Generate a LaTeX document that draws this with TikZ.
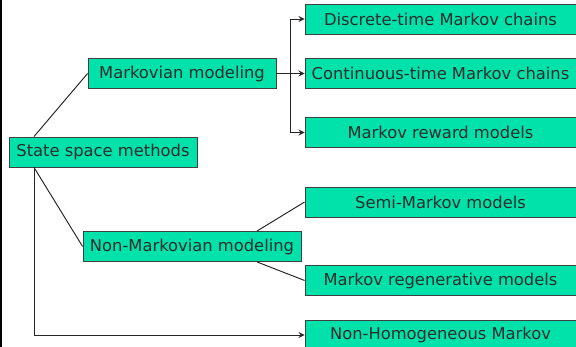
\documentclass[tikz,border=0pt]{standalone}
\usepackage{fontspec}
\setmainfont{DejaVu Sans}
\definecolor{mint}{RGB}{0,226,170}
\definecolor{inkgray}{RGB}{35,45,45}
\begin{document}
\begin{tikzpicture}[x=0.02cm, y=-0.02cm, every node/.style={font=\fontsize{9.3}{11}\selectfont, text=inkgray}]
  \tikzstyle{methbox}=[draw=black!75,fill=mint,minimum height=0.6cm,inner sep=0pt,line width=0.5pt]
  \tikzstyle{link}=[draw=black!85,line width=0.55pt]
  \useasboundingbox (0,0) rectangle (576,347);
  \fill[black] (0,0) rectangle (2,347);
  % left side
  \node[methbox,minimum width=3.76cm] (ssm) at (103,152) {State space methods};
  \node[methbox,minimum width=3.76cm] (mm) at (182,73.5) {Markovian modeling};
  \node[methbox,minimum width=4.36cm] (nmm) at (192,246.5) {Non-Markovian modeling};
  % right column
  \node[methbox,minimum width=5.42cm] (dtmc) at (440.5,19) {Discrete-time Markov chains};
  \node[methbox,minimum width=5.42cm] (ctmc) at (440.5,73.5) {Continuous-time Markov chains};
  \node[methbox,minimum width=5.42cm] (mrm) at (440.5,132.5) {Markov reward models};
  \node[methbox,minimum width=5.42cm] (smm) at (440.5,202) {Semi-Markov models};
  \node[methbox,minimum width=5.42cm] (mrg) at (440.5,280.5) {Markov regenerative models};
  \node[methbox,minimum width=5.42cm] (nhm) at (440.5,335) {Non-Homogeneous Markov};
  % branch points
  \coordinate (stem) at (34,152);
  \coordinate (fork) at (290,73.5);
  \coordinate (split) at (257,246.5);
  % connectors
  \draw[link] (stem |- ssm.north) -- (mm.west);
  \draw[link] (stem |- ssm.south) -- (nmm.west);
  \draw[link,->,>=stealth] (stem |- ssm.south) |- (nhm.west);
  \draw[link,->,>=stealth] (mm.east) -- (ctmc.west);
  \draw[link,->,>=stealth] (fork) |- (dtmc.west);
  \draw[link,->,>=stealth] (fork) |- (mrm.west);
  \draw[link] (split |- nmm.north) -- (smm.west);
  \draw[link] (split |- nmm.south) -- (mrg.west);
\end{tikzpicture}
\end{document}
